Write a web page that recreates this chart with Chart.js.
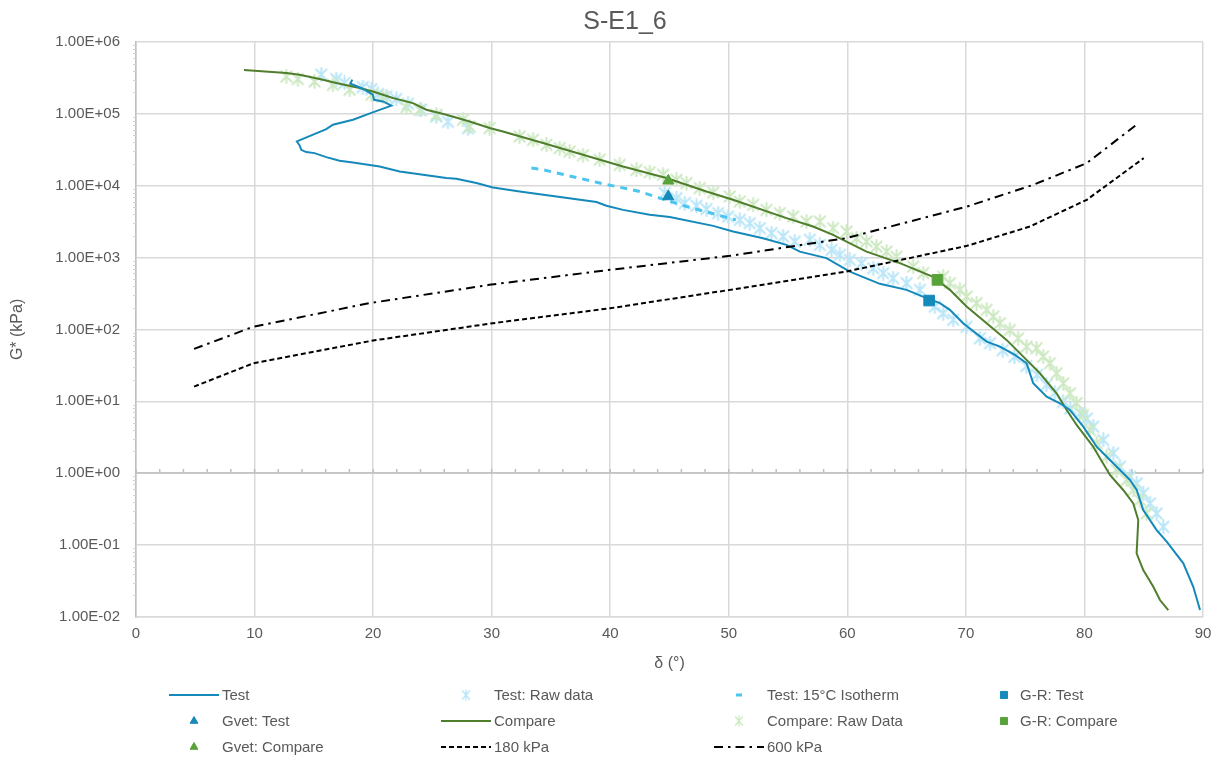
<!DOCTYPE html>
<html>
<head>
<meta charset="utf-8">
<title>S-E1_6</title>
<script src="https://cdn.jsdelivr.net/npm/chart.js@4.4.1/dist/chart.umd.min.js"></script>
<style>
  html, body { margin: 0; padding: 0; background: #ffffff; }
  #wrap { width: 1222px; height: 760px; position: relative; }
</style>
</head>
<body>
<div id="wrap"><canvas id="chart" width="1222" height="760"></canvas></div>
<script>
// ---- Chart text ----
const chartTitle = 'S-E1_6';
const xAxisTitle = 'δ (°)';
const yAxisTitle = 'G* (kPa)';

// ---- Tick values ----
const xTickValues = [0, 10, 20, 30, 40, 50, 60, 70, 80, 90];
const yTickValues = [1e-2, 1e-1, 1e0, 1e1, 1e2, 1e3, 1e4, 1e5, 1e6];

// ---- Test: master curve (phase angle °, |G*| kPa) ----
const testDelta = [18.24, 18.08, 19.00, 19.98, 20.07, 20.83, 21.54, 19.85, 18.30, 16.61, 16.05, 13.57, 13.80, 13.94, 14.36, 15.06,
  16.05, 17.17, 18.30, 20.55, 22.24, 26.18, 27.02, 28.71, 30.11, 32.36, 35.46, 38.84, 39.68, 41.08, 43.33, 45.02,
  48.68, 50.36, 52.89, 54.87, 55.99, 58.24, 60.21, 62.74, 65.00, 66.68, 67.81, 68.65, 69.77, 71.75, 72.87, 74.14,
  75.12, 75.40, 75.68, 76.81, 77.93, 78.78, 79.90, 81.03, 82.43, 83.84, 84.41, 84.96, 86.09, 86.94, 88.34, 89.18, 89.75];
const testG = [2.99e5, 2.62e5, 2.29e5, 1.85e5, 1.57e5, 1.49e5, 1.30e5, 1.03e5, 8.28e4, 7.05e4, 6.14e4, 4.13e4, 3.63e4, 3.16e4, 2.94e4, 2.84e4,
  2.50e4, 2.22e4, 2.10e4, 1.85e4, 1.58e4, 1.28e4, 1.25e4, 1.09e4, 9420, 8300, 7080, 5920, 5250, 4610, 3940, 3660,
  2760, 2300, 1860, 1500, 1210, 982, 638, 431, 355, 272, 232, 187, 122, 67.6, 57.5, 44.2,
  33.8, 24.5, 17.8, 11.6, 9.38, 7.57, 4.43, 2.33, 1.37, 0.802, 0.582, 0.306, 0.161, 0.111, 0.0555, 0.0262, 0.0124];

// ---- Test: raw measurements ----
const testRawDelta = [15.63, 16.89, 17.59, 19.14, 19.85, 20.41, 21.11, 21.96, 22.94, 24.07, 25.33, 26.31, 28.00,
  44.60, 45.59, 46.29, 47.27, 48.12, 49.10, 49.94, 50.93, 51.77, 52.62, 53.60, 54.58, 55.57, 56.84, 57.68, 58.67,
  59.37, 60.21, 61.20, 62.18, 63.02, 63.86, 65.00, 66.12, 67.38, 68.08, 68.93, 70.06, 71.18, 72.03, 73.10, 74.10,
  75.10, 76.00, 76.80, 77.50, 78.20, 78.80, 79.62, 80.20, 80.74, 81.59, 82.43, 82.99, 83.84, 84.41, 84.96, 85.53,
  86.09, 86.65];
const testRawG = [3.51e5, 3.05e5, 2.69e5, 2.36e5, 2.21e5, 1.89e5, 1.75e5, 1.61e5, 1.38e5, 1.14e5, 9.20e4, 7.76e4, 6.30e4,
  7890, 6710, 5730, 5250, 4720, 4150, 3720, 3340, 3010, 2560, 2190, 1960, 1670, 1770, 1500, 1280,
  1090, 929, 836, 711, 607, 516, 440, 355, 208, 168, 136, 109, 75.3, 64.3, 51.3, 41.7,
  30.9, 23.4, 17.0, 13.2, 9.77, 7.94, 6.79, 5.75, 4.43, 2.89, 1.89, 1.23, 0.891, 0.721, 0.524, 0.379,
  0.275, 0.179];

// ---- Test: 15 °C isotherm ----
const isoDelta = [33.35, 34.33, 39.11, 42.49, 44.18, 46.43, 50.60];
const isoG = [1.76e4, 1.67e4, 1.09e4, 8300, 6710, 5130, 3350];

// ---- Single-point parameters ----
const grTestDelta = [66.9];
const grTestG = [252];
const gvetTestDelta = [44.9];
const gvetTestG = [7080];
const grCompareDelta = [67.6];
const grCompareG = [489];
const gvetCompareDelta = [44.9];
const gvetCompareG = [11700];

// ---- Compare: master curve ----
const compareDelta = [9.10, 12.68, 13.80, 15.49, 16.89, 18.86, 19.98, 21.67, 23.36, 24.49, 26.18, 28.14, 29.83, 30.95, 34.33,
  37.70, 41.08, 44.74, 48.12, 50.36, 54.87, 57.11, 58.80, 59.93, 61.62, 64.43, 67.24, 68.65, 70.06, 71.75, 73.43,
  74.84, 76.24, 77.65, 78.50, 79.34, 80.74, 82.15, 83.27, 84.12, 84.54, 84.40, 84.96, 85.81, 86.37, 87.07];
const compareG = [4.07e5, 3.70e5, 3.51e5, 3.05e5, 2.69e5, 2.29e5, 2.05e5, 1.66e5, 1.41e5, 1.14e5, 9.70e4, 7.83e4, 6.34e4, 5.69e4, 3.92e4,
  2.69e4, 1.85e4, 1.28e4, 8300, 6370, 3540, 2700, 2070, 1670, 1210, 836, 538, 355, 208, 122, 71.4,
  41.8, 24.5, 12.9, 7.57, 4.68, 2.33, 0.940, 0.582, 0.379, 0.222, 0.0764, 0.0447, 0.0262, 0.0171, 0.0124];

// ---- Compare: raw measurements ----
const compareRawDelta = [12.68, 13.65, 15.06, 16.61, 18.02, 19.85, 20.83, 22.80, 23.92, 25.33, 27.58, 28.14, 29.83, 32.36,
  33.49, 34.62, 35.74, 36.58, 37.70, 39.11, 40.80, 42.21, 43.33, 44.46, 45.59, 46.43, 47.55, 48.68, 50.08, 50.93,
  52.05, 53.18, 54.30, 55.43, 56.56, 57.68, 58.80, 59.93, 60.78, 61.62, 62.46, 63.31, 64.15, 65.55, 66.40, 68.08,
  68.65, 69.49, 70.06, 70.90, 71.75, 72.31, 72.87, 73.71, 74.41, 75.12, 75.96, 76.52, 77.09, 77.65, 78.21, 78.78,
  79.34, 79.87, 80.46, 81.03, 81.87, 82.72, 83.56, 84.12, 84.68, 85.25];
const compareRawG = [3.32e5, 3.05e5, 2.82e5, 2.54e5, 2.17e5, 1.85e5, 1.74e5, 1.24e5, 1.14e5, 9.70e4, 8.28e4, 6.68e4, 6.34e4, 4.84e4,
  4.36e4, 3.72e4, 3.34e4, 2.99e4, 2.65e4, 2.30e4, 1.95e4, 1.66e4, 1.54e4, 1.42e4, 1.21e4, 1.09e4, 9270, 8040, 7080, 6030,
  5420, 4610, 4150, 3720, 3170, 3170, 2560, 2300, 1860, 1670, 1420, 1210, 1030, 750, 607, 543,
  440, 355, 286, 232, 187, 151, 122, 98.4, 75.3, 57.5, 54.7, 41.8, 33.8, 24.5, 17.8, 12.9,
  9.38, 6.46, 3.98, 2.60, 1.69, 1.10, 0.802, 0.582, 0.422, 0.275];

// ---- Cracking criteria (G-R = 180 kPa and 600 kPa) ----
const delta180 = [4.9, 9.9, 20.0, 30.1, 40.0, 50.1, 59.9, 70.1, 75.4, 80.2, 85.0];
const g180 = [16.0, 33.8, 70, 122, 197, 355, 638, 1456, 2704, 6368, 24200];
const delta600 = [4.9, 9.9, 19.7, 29.8, 40.0, 50.1, 59.9, 70.1, 75.7, 80.2, 84.5];
const g600 = [53.5, 109, 232, 417, 675, 1057, 1862, 5130, 10300, 20650, 72800];

// ---- Helpers ----
const toPoints = (xs, ys) => xs.map((x, i) => ({ x, y: ys[i] }));

function sciLabel(v) {
  const e = Math.round(Math.log10(v));
  const m = v / Math.pow(10, e);
  return m.toFixed(2) + 'E' + (e < 0 ? '-' : '+') + String(Math.abs(e)).padStart(2, '0');
}

// Asterisk marker (x with a vertical stroke), used for the raw readings
function asteriskMarker(color, size, width) {
  const c = document.createElement('canvas');
  c.width = size; c.height = size;
  const g = c.getContext('2d');
  const m = size / 2, r = size / 2 - 1;
  g.strokeStyle = color;
  g.lineWidth = width;
  g.lineCap = 'round';
  g.beginPath();
  g.moveTo(m - r * 0.8, m - r * 0.8); g.lineTo(m + r * 0.8, m + r * 0.8);
  g.moveTo(m + r * 0.8, m - r * 0.8); g.lineTo(m - r * 0.8, m + r * 0.8);
  g.moveTo(m, m - r); g.lineTo(m, m + r);
  g.stroke();
  return c;
}

const blueLine = '#1489BA';
const blueRaw = '#B9E6F8';
const isoBlue = '#4CC5EF';
const greenLine = '#4F7E2C';
const greenMark = '#58A23A';
const greenRaw = '#CDE9C2';
const textGrey = '#595959';
const fontFamily = "'Liberation Sans', Arial, sans-serif";

Chart.defaults.font.family = fontFamily;
Chart.defaults.color = textGrey;

const testRawMarker = asteriskMarker(blueRaw, 15, 2);
const compareRawMarker = asteriskMarker(greenRaw, 15, 2);

// Datasets are listed in legend order; `order` sets the drawing stack.
const datasets = [
  { label: 'Test', data: toPoints(testDelta, testG), showLine: true, borderColor: blueLine, backgroundColor: blueLine,
    borderWidth: 2, pointRadius: 0, order: 2, legendSymbol: 'line' },
  { label: 'Test: Raw data', data: toPoints(testRawDelta, testRawG), showLine: false, pointStyle: testRawMarker,
    pointRadius: 6, borderColor: blueRaw, backgroundColor: blueRaw, order: 6, legendSymbol: 'marker' },
  { label: 'Test: 15°C Isotherm', data: toPoints(isoDelta, isoG), showLine: true, borderColor: isoBlue, backgroundColor: isoBlue,
    borderWidth: 3, borderDash: [7, 6], pointRadius: 0, order: 3, legendSymbol: 'dash' },
  { label: 'G-R: Test', data: toPoints(grTestDelta, grTestG), showLine: false, pointStyle: 'rect', pointRadius: 7.5,
    borderColor: blueLine, backgroundColor: blueLine, borderWidth: 1, order: 0, legendSymbol: 'marker' },
  { label: 'Gvet: Test', data: toPoints(gvetTestDelta, gvetTestG), showLine: false, pointStyle: 'triangle', pointRadius: 6.5,
    borderColor: blueLine, backgroundColor: blueLine, borderWidth: 1, order: 0, legendSymbol: 'marker' },
  { label: 'Compare', data: toPoints(compareDelta, compareG), showLine: true, borderColor: greenLine, backgroundColor: greenLine,
    borderWidth: 2, pointRadius: 0, order: 2, legendSymbol: 'line' },
  { label: 'Compare: Raw Data', data: toPoints(compareRawDelta, compareRawG), showLine: false, pointStyle: compareRawMarker,
    pointRadius: 6, borderColor: greenRaw, backgroundColor: greenRaw, order: 5, legendSymbol: 'marker' },
  { label: 'G-R: Compare', data: toPoints(grCompareDelta, grCompareG), showLine: false, pointStyle: 'rect', pointRadius: 7.5,
    borderColor: greenMark, backgroundColor: greenMark, borderWidth: 1, order: 0, legendSymbol: 'marker' },
  { label: 'Gvet: Compare', data: toPoints(gvetCompareDelta, gvetCompareG), showLine: false, pointStyle: 'triangle', pointRadius: 6.5,
    borderColor: greenMark, backgroundColor: greenMark, borderWidth: 1, order: 0, legendSymbol: 'marker' },
  { label: '180 kPa', data: toPoints(delta180, g180), showLine: true, borderColor: '#000000', backgroundColor: '#000000',
    borderWidth: 2, borderDash: [5, 3], pointRadius: 0, order: 1, legendSymbol: 'line' },
  { label: '600 kPa', data: toPoints(delta600, g600), showLine: true, borderColor: '#000000', backgroundColor: '#000000',
    borderWidth: 2, borderDash: [9, 5, 2.5, 5], pointRadius: 0, order: 1, legendSymbol: 'line' }
];

// Chart title, drawn above the plot
const titlePlugin = {
  id: 'topTitle',
  afterDraw(chart) {
    const ctx = chart.ctx;
    ctx.save();
    ctx.font = '25px ' + fontFamily;
    ctx.fillStyle = textGrey;
    ctx.textAlign = 'center';
    ctx.textBaseline = 'middle';
    ctx.fillText(chartTitle, 625, 22);
    ctx.restore();
  }
};

// Horizontal axis line crossing at G* = 1 with minor ticks, plus minor log ticks on the value axis
const axisMarksPlugin = {
  id: 'axisMarks',
  beforeDatasetsDraw(chart) {
    const { ctx, chartArea, scales } = chart;
    const x = scales.x, y = scales.y;
    const yCross = y.getPixelForValue(1);
    ctx.save();
    ctx.strokeStyle = '#BFBFBF';
    ctx.lineWidth = 1.5;
    ctx.beginPath();
    ctx.moveTo(chartArea.left, yCross);
    ctx.lineTo(chartArea.right, yCross);
    for (let d = 0; d <= 90; d += 2) {
      const px = x.getPixelForValue(d);
      ctx.moveTo(px, yCross);
      ctx.lineTo(px, yCross - 4);
    }
    ctx.stroke();
    ctx.strokeStyle = '#D0D0D0';
    ctx.lineWidth = 1;
    ctx.beginPath();
    for (let e = -2; e < 6; e++) {
      for (let k = 2; k <= 9; k++) {
        const py = Math.round(y.getPixelForValue(k * Math.pow(10, e))) + 0.5;
        ctx.moveTo(chartArea.left - 3, py);
        ctx.lineTo(chartArea.left, py);
      }
    }
    ctx.stroke();
    ctx.restore();
  }
};

// Legend laid out on a fixed 4-column grid beneath the axis title
const legendRows = [695, 721, 747];
const legendSymbolX = [194, 466, 739, 1004];
const legendTextX = [222, 494, 767, 1020];

const gridLegendPlugin = {
  id: 'gridLegend',
  afterDraw(chart) {
    const ctx = chart.ctx;
    chart.data.datasets.forEach((ds, i) => {
      const row = Math.floor(i / 4), col = i % 4;
      const cx = legendSymbolX[col], cy = legendRows[row];
      ctx.save();
      if (ds.legendSymbol === 'line') {
        ctx.strokeStyle = ds.borderColor;
        ctx.lineWidth = ds.borderWidth;
        ctx.setLineDash(ds.borderDash || []);
        ctx.beginPath();
        ctx.moveTo(cx - 25, cy);
        ctx.lineTo(cx + 25, cy);
        ctx.stroke();
      } else if (ds.legendSymbol === 'dash') {
        ctx.fillStyle = ds.borderColor;
        ctx.fillRect(cx - 3, cy - 1.5, 6, 3);
      } else if (ds.pointStyle instanceof HTMLCanvasElement) {
        ctx.drawImage(ds.pointStyle, cx - 5, cy - 6, 10, 12);
      } else {
        ctx.fillStyle = ds.backgroundColor;
        ctx.strokeStyle = ds.borderColor;
        ctx.lineWidth = 1;
        Chart.helpers.drawPoint(ctx, { pointStyle: ds.pointStyle, radius: ds.pointStyle === 'rect' ? 5 : 4.5, rotation: 0, borderWidth: 1 }, cx, cy);
      }
      ctx.setLineDash([]);
      ctx.font = '15px ' + fontFamily;
      ctx.fillStyle = textGrey;
      ctx.textAlign = 'left';
      ctx.textBaseline = 'middle';
      ctx.fillText(ds.label, legendTextX[col], cy + 1);
      ctx.restore();
    });
  }
};

new Chart(document.getElementById('chart').getContext('2d'), {
  type: 'scatter',
  data: { datasets },
  options: {
    responsive: false,
    animation: false,
    devicePixelRatio: 1,
    layout: { padding: { top: 42, right: 19, bottom: 87, left: 0 } },
    plugins: {
      legend: { display: false },
      title: { display: false },
      tooltip: { enabled: false }
    },
    elements: { line: { tension: 0, fill: false } },
    scales: {
      x: {
        type: 'linear',
        min: 0,
        max: 90,
        afterBuildTicks: (s) => { s.ticks = xTickValues.map(v => ({ value: v })); },
        ticks: { color: textGrey, font: { size: 15 }, padding: 8, maxRotation: 0 },
        grid: { color: '#D9D9D9', lineWidth: 1.5, drawTicks: false },
        border: { color: '#D9D9D9', width: 1.5 },
        title: { display: true, text: xAxisTitle, color: textGrey, font: { size: 16 }, padding: { top: 3, bottom: 0 } }
      },
      y: {
        type: 'logarithmic',
        min: 1e-2,
        max: 1e6,
        afterBuildTicks: (s) => { s.ticks = yTickValues.map(v => ({ value: v })); },
        afterFit: (s) => { s.width = 136; },
        ticks: { color: textGrey, font: { size: 15 }, padding: 16, callback: (v) => sciLabel(v) },
        grid: { color: '#D9D9D9', lineWidth: 1.5, drawTicks: false },
        border: { color: '#BFBFBF', width: 1.5 },
        title: { display: true, text: yAxisTitle, color: textGrey, font: { size: 16 }, padding: { top: 8, bottom: 0 } }
      }
    }
  },
  plugins: [axisMarksPlugin, titlePlugin, gridLegendPlugin]
});
</script>
</body>
</html>
